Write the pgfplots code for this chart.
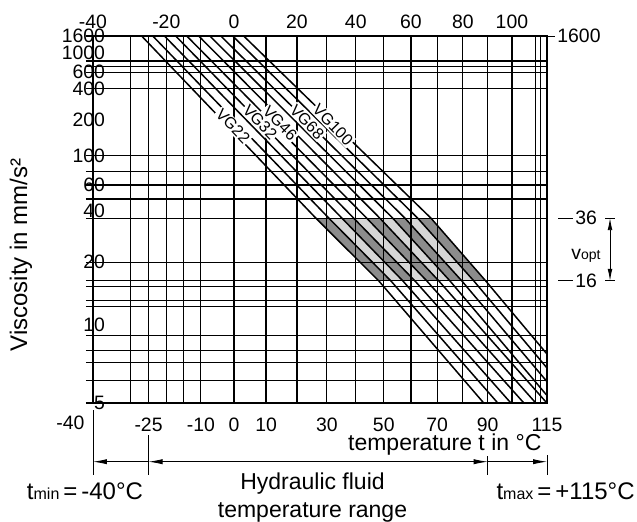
\documentclass[border=0pt]{standalone}
\usepackage{fontspec}
\setmainfont{Liberation Sans}
\usepackage{pgfplots}
\pgfplotsset{compat=1.18}
\usetikzlibrary{arrows.meta}

\newcommand\lbl{\fontsize{9.7}{11}\selectfont}
\newcommand\txt{\fontsize{11.5}{14}\selectfont}
\newcommand\vg{\fontsize{8}{9}\selectfont}
\newcommand\sub{\fontsize{7}{8}\selectfont}

\begin{document}
\begin{tikzpicture}[line width=0.6pt]
\begin{axis}[
  at={(0pt,0pt)}, anchor=south west,
  scale only axis, width=227pt, height=183.5pt,
  % x: ln(t+273.15) (temperature in C), y: ln(ln(v+0.7)) (Ubbelohde-Walther)
  x filter/.expression={ln(x+273.15)},
  y filter/.expression={ln(ln(y+0.7))},
  xmin=5.451682, xmax=5.961390, ymin=0.554153, ymax=1.998528,
  enlargelimits=false, clip=false, set layers,
  axis line style={black, line width=0.6pt},
  % grid lines: -30,-25,-20,-15,-10,0,10,...,100,110,112
  xtick={5.493678,5.514032,5.533983,5.553541,5.572724,5.610021,5.645978,5.680685,
         5.714228,5.746682,5.778116,5.808593,5.838168,5.866893,5.894815,5.921980,
         5.948425,5.953632},
  % grid lines: 5,6,7,7.8,9,12,12.8,15,16,20,36,48,60,75,100,400,600,700,800,1600
  ytick={0.554153,0.642962,0.713548,0.760836,0.820717,0.932795,0.956546,1.012931,
         1.035108,1.108607,1.281705,1.357298,1.412436,1.464823,1.528694,1.790627,
         1.855999,1.879781,1.899937,1.998528},
  xticklabels={}, yticklabels={},
  xmajorgrids, ymajorgrids,
  major grid style={black, line width=0.6pt},
  xtick style={draw=none},
  ytick style={black, line width=0.6pt},
  tick align=outside, major tick length=3.5pt,
  ytick pos=left, xtick pos=bottom,
  extra x ticks={5.514032,5.572724,5.610021,5.645978,5.714228,5.778116,5.838168,5.894815,5.961390},
  extra x tick labels={-25,-10,0,10,30,50,70,90,115},
  extra x tick style={grid=none, major tick length=0pt, xticklabel style={yshift=-4pt}},
  extra y ticks={0.554153,0.862993,1.108607,1.310014,1.412436,1.528694,1.668049,1.790627,
                 1.855999,1.932745,1.998528},
  extra y tick labels={5,10,20,40,60,100,200,400,600,1000,1600},
  extra y tick style={grid=none, major tick length=0pt, yticklabel style={xshift=9.5pt}},
  tick label style={font=\lbl, text=black},
]
% optimum viscosity band 16..36 mm/s^2  (t in C, v in mm/s^2)
\addplot[fill=black!16, draw=none, on layer=axis background]
  coordinates {(26.3,36) (67.6,36) (89.2,16) (48.2,16)} -- cycle;
\addplot[fill=black!45, draw=none, on layer=axis background]
  coordinates {(26.3,36) (30.7,36) (52.6,16) (48.2,16)} -- cycle;
\addplot[fill=black!45, draw=none, on layer=axis background]
  coordinates {(35.2,36) (39.3,36) (61.5,16) (57.0,16)} -- cycle;
\addplot[fill=black!45, draw=none, on layer=axis background]
  coordinates {(43.9,36) (48.6,36) (70.6,16) (66.0,16)} -- cycle;
\addplot[fill=black!45, draw=none, on layer=axis background]
  coordinates {(53.3,36) (57.8,36) (79.6,16) (74.9,16)} -- cycle;
\addplot[fill=black!45, draw=none, on layer=axis background]
  coordinates {(62.6,36) (67.6,36) (89.2,16) (84.4,16)} -- cycle;

% VG lines, two per grade
\addplot[black, line width=0.75pt] coordinates {(-26.9,1600) (26.3,36) (48.2,16) (88.4,5)};
\addplot[black, line width=0.75pt] coordinates {(-23.8,1600) (30.7,36) (52.6,16) (94.2,5)};
\addplot[black, line width=0.75pt] coordinates {(-20.5,1600) (35.2,36) (57.0,16) (99.6,5)};
\addplot[black, line width=0.75pt] coordinates {(-17.3,1600) (39.3,36) (61.5,16) (105.1,5)};
\addplot[black, line width=0.75pt] coordinates {(-14.1,1600) (43.9,36) (66.0,16) (110.2,5)};
\addplot[black, line width=0.75pt] coordinates {(-10.6,1600) (48.6,36) (70.6,16) (115,5)};
\addplot[black, line width=0.75pt] coordinates {(-7.3,1600) (53.3,36) (74.9,16) (115,5.31)};
\addplot[black, line width=0.75pt] coordinates {(-4.0,1600) (57.8,36) (79.6,16) (115,5.95)};
\addplot[black, line width=0.75pt] coordinates {(-0.4,1600) (62.6,36) (84.4,16) (115,6.68)};
\addplot[black, line width=0.75pt] coordinates {(3.0,1600) (67.6,36) (89.2,16) (115,7.56)};

\node[rotate=-46, fill=white, inner sep=0.6pt, font=\vg] at (rel axis cs:0.3084,0.7548) {VG22};
\node[rotate=-46, fill=white, inner sep=0.6pt, font=\vg] at (rel axis cs:0.3678,0.7657) {VG32};
\node[rotate=-46, fill=white, inner sep=0.6pt, font=\vg] at (rel axis cs:0.4119,0.7629) {VG46};
\node[rotate=-46, fill=white, inner sep=0.6pt, font=\vg] at (rel axis cs:0.4714,0.7657) {VG68};
\node[rotate=-46, fill=white, inner sep=0.6pt, font=\vg] at (rel axis cs:0.5286,0.7575) {VG100};

% top temperature scale
\node[anchor=south, font=\lbl, inner sep=0pt, yshift=3.5pt] at (rel axis cs:0,1) {-40};
\node[anchor=south, font=\lbl, inner sep=0pt, yshift=3.5pt] at (rel axis cs:0.16147,1) {-20};
\node[anchor=south, font=\lbl, inner sep=0pt, yshift=3.5pt] at (rel axis cs:0.31065,1) {0};
\node[anchor=south, font=\lbl, inner sep=0pt, yshift=3.5pt] at (rel axis cs:0.44929,1) {20};
\node[anchor=south, font=\lbl, inner sep=0pt, yshift=3.5pt] at (rel axis cs:0.57876,1) {40};
\node[anchor=south, font=\lbl, inner sep=0pt, yshift=3.5pt] at (rel axis cs:0.70022,1) {60};
\node[anchor=south, font=\lbl, inner sep=0pt, yshift=3.5pt] at (rel axis cs:0.81461,1) {80};
\node[anchor=south, font=\lbl, inner sep=0pt, yshift=3.5pt] at (rel axis cs:0.92268,1) {100};

% right side: 1600, optimum range 16..36
\draw (rel axis cs:1,1) -- ++(4pt,0pt) node[right, inner sep=1pt, font=\lbl] {1600};
\draw ([xshift=5.5pt]rel axis cs:1,0.50371) -- ++(7.5pt,0pt) node[right, inner sep=1pt, font=\lbl] {36};
\draw ([xshift=5.5pt]rel axis cs:1,0.33298) -- ++(7.5pt,0pt) node[right, inner sep=1pt, font=\lbl] {16};
\draw[{Latex[length=6pt,width=2.4pt]}-{Latex[length=6pt,width=2.4pt]}]
  ([xshift=31.5pt]rel axis cs:1,0.50371) -- ([xshift=31.5pt]rel axis cs:1,0.33298);
\draw ([xshift=29pt]rel axis cs:1,0.50371) -- ++(5pt,0pt);
\draw ([xshift=29pt]rel axis cs:1,0.33298) -- ++(5pt,0pt);
\node[font=\lbl] at ([xshift=19.5pt]rel axis cs:1,0.39968) {v{\sub opt}};

% temperature range below the axis
\draw ([yshift=-3.5pt]rel axis cs:0,0) -- ([yshift=-36pt]rel axis cs:0,0);
\draw ([yshift=-16pt]rel axis cs:0.12233,0) -- ([yshift=-36pt]rel axis cs:0.12233,0);
\draw ([yshift=-26.5pt]rel axis cs:0.86939,0) -- ([yshift=-36pt]rel axis cs:0.86939,0);
\draw ([yshift=-26pt]rel axis cs:1,0) -- ([yshift=-36pt]rel axis cs:1,0);
\draw[-{Latex[length=7pt,width=2.6pt]}]
  ([yshift=-29.35pt]rel axis cs:0.12233,0) -- ([yshift=-29.35pt]rel axis cs:0,0);
\draw[{Latex[length=7pt,width=2.6pt]}-{Latex[length=7pt,width=2.6pt]}]
  ([yshift=-29.35pt]rel axis cs:0.12233,0) -- ([yshift=-29.35pt]rel axis cs:0.86939,0);
\draw[-{Latex[length=7pt,width=2.6pt]}]
  ([yshift=-29.35pt]rel axis cs:0.86939,0) -- ([yshift=-29.35pt]rel axis cs:1,0);
\end{axis}

\node[anchor=east, font=\lbl, inner sep=0pt] at (-4pt,-10pt) {-40};
\node[anchor=east, font=\txt, inner sep=0pt] at (224.5pt,-21pt) {temperature t in °C};
\node[rotate=90, font=\fontsize{12}{14}\selectfont] at (-36pt,74pt) {Viscosity in mm/s²};
\node[font=\fontsize{12}{14}\selectfont] at (-4pt,-44pt)
  {t{\fontsize{8}{9}\selectfont min}\,=\,-40°C};
\node[font=\fontsize{12}{14}\selectfont] at (236.3pt,-44pt)
  {t{\fontsize{8}{9}\selectfont max}\,=\,+115°C};
\node[font=\txt, align=center] at (109.75pt,-47.5pt) {Hydraulic fluid\\temperature range};
\pgfresetboundingbox
\path[use as bounding box] (-46.5pt,-59pt) rectangle (272pt,201.5pt);
\end{tikzpicture}
\end{document}
